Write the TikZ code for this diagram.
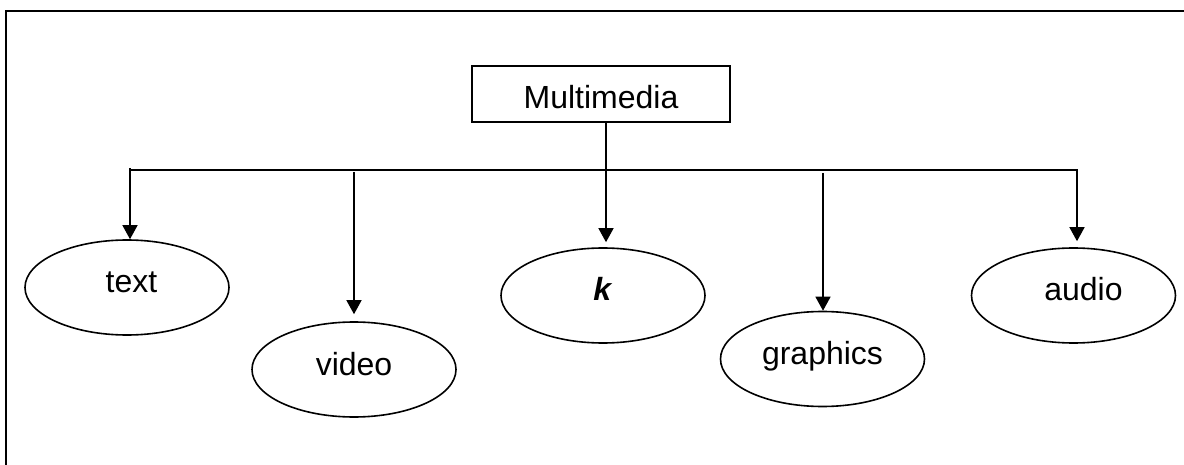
\documentclass[tikz,border=0pt]{standalone}
\usepackage{fontspec}
\setmainfont{Liberation Sans}
\usetikzlibrary{shapes.geometric,arrows.meta}

\tikzset{
  media/.style={draw, ellipse, line width=1.6pt, minimum width=204pt, minimum height=95pt,
    inner sep=0pt, text height=21pt, text depth=10pt},
  topbox/.style={draw, rectangle, line width=1.6pt, minimum width=258pt, minimum height=56pt,
    text height=30pt, text depth=0pt},
  link/.style={line width=1.4pt},
  feed/.style={link, -{Triangle[length=14pt,width=15pt]}},
}

\begin{document}
\begin{tikzpicture}[x=1pt,y=-1pt,font=\fontsize{32}{38}\selectfont]
  \useasboundingbox (0,0) rectangle (1184,465);
  % outer frame (only left and top edges show)
  \draw[line width=2pt] (6,470) -- (6,11) -- (1190,11);

  \node[topbox] (multi) at (601,94) {Multimedia};

  \node[media] (text) at (127,287.5) {\hspace*{9pt}text};
  \node[media] (video) at (354,369.5) {video};
  \node[media] (key) at (603,295.5) {\textbf{\textit{k}}};
  \node[media] (graphics) at (822.5,359) {graphics};
  \node[media] (audio) at (1073.5,295.5) {\hspace*{20pt}audio};

  \coordinate (tick) at (130,168);
  \coordinate (busL) at (130,170);
  \coordinate (busR) at (1077,170);
  \coordinate (vtop) at (354,172);
  \coordinate (gtop) at (823,173);

  % bus and arrows
  \draw[feed] (tick) -- (tick |- text.north);
  \draw[feed, shorten >=6pt] (busL) -- (busR) -- (busR |- audio.north);
  \draw[feed, shorten >=7pt] (vtop) -- (video.north);
  \draw[feed] (gtop) -- (gtop |- graphics.north);
  \draw[feed, shorten >=5pt] ([xshift=5pt]multi.south) -- ([xshift=5pt]multi.south |- key.north);
\end{tikzpicture}
\end{document}
